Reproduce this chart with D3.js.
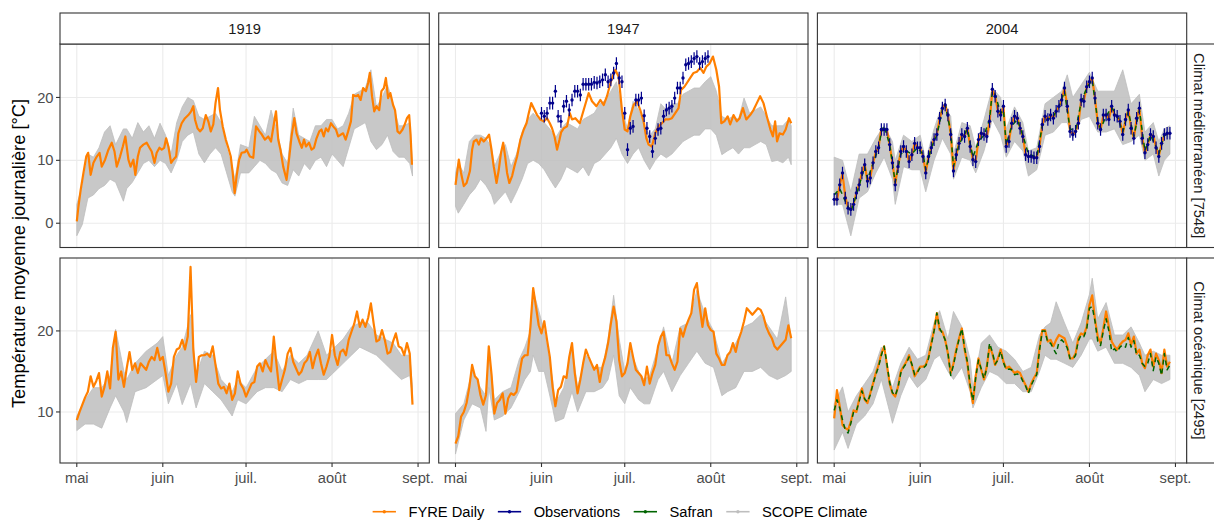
<!DOCTYPE html>
<html><head><meta charset="utf-8">
<script src="https://cdn.jsdelivr.net/npm/d3@7"></script>
<style>body{margin:0;background:#fff}svg{display:block}</style>
</head><body><svg id="c" width="1214" height="520"></svg>
<script>
// ---------- categories / labels ----------
const years = ["1919", "1947", "2004"];
const climates = ["Climat méditerranéen [7548]", "Climat océanique [2495]"];
const monthTickDays = [0, 31, 61, 92, 123];
const monthTickLabels = ["mai", "juin", "juil.", "août", "sept."];
const yTicksByRow = [[0, 10, 20], [10, 20]];
const yTitle = "Température moyenne journalière [°C]";
const seriesNames = ["FYRE Daily", "Observations", "Safran", "SCOPE Climate"];
const seriesColors = ["#ff7f00", "#00008b", "#006400", "#bebebe"];
const dayRange = [0, 121];
const obsUncertainty = 1.0;

// ---------- FYRE Daily ([day, °C] or daily values from 1 May) ----------
const fyre1919Med = [[0,0.3],[0.6,2.7],[1.4,5.3],[2.4,8],[3.4,10.6],[4.1,11.2],[5,7.7],[6,9.6],[7.2,10.6],[8.2,11.2],[9,9],[10.2,10.1],[11.4,11.7],[12.6,12.8],[13.6,11.4],[14.4,9],[15.6,10.6],[16.6,12.2],[17.5,13.8],[18.6,10.1],[19.4,9],[20.4,10.1],[21.1,7.7],[22,10.6],[22.8,12],[24,12.5],[25.2,12.8],[26.2,12],[27,11.4],[28,9.6],[28.8,11.2],[29.8,12],[30.6,11.7],[31.5,12],[32.2,13.5],[33,12.2],[34,9.6],[34.8,10.1],[35.8,10.6],[36.6,14.3],[37.8,15.9],[39,16.7],[40.2,17.2],[41.2,17.8],[42,18.6],[42.6,16.5],[43.5,15.1],[44.4,14.6],[45.4,15.1],[46.5,17.2],[47.4,16.2],[48.3,14.6],[49.2,15.7],[50,19.1],[50.9,21.5],[51.6,18],[52.6,15.4],[53.7,13.3],[54.6,12],[55.5,10.6],[56.2,8],[56.9,4.8],[57.6,7.5],[58.5,10.1],[59.4,11.2],[60.6,11.3],[61.2,11.7],[62.4,10.6],[63.6,10.4],[64.6,15.4],[65.8,14.6],[66.7,14.1],[67.8,13.3],[69,13.8],[70,13],[71,15.7],[71.8,17.8],[72.6,13.3],[73.4,11.7],[74.4,9],[75.6,6.9],[76.6,10.6],[77.4,13.8],[78.4,16.7],[79.2,14.3],[80.2,13],[81.1,12],[81.9,13.3],[82.6,12.2],[83.7,12.8],[84.6,11.7],[85.5,12],[86.4,13.5],[87.4,14.6],[88.2,14.9],[89,13.8],[89.8,15.1],[90.6,14.6],[91.6,15.9],[92.4,15.4],[93.4,14.9],[94.2,13.8],[95.2,14.1],[96,14.3],[96.9,13.3],[97.8,14.6],[98.8,16.2],[99.6,20.4],[100.6,20.2],[101.4,20.4],[102.3,19.6],[103.2,21.5],[104.2,21],[105,22.3],[105.6,23.9],[106.4,20.2],[107.2,17.8],[108,18.6],[109,18],[109.8,21],[110.7,21.5],[111.4,23.1],[112.2,19.9],[113,20.7],[114,18.8],[114.7,18],[115.6,14.6],[116.4,14.3],[117.4,14.9],[118.2,15.7],[119,16.7],[119.8,17.2],[120.3,14.1],[120.8,9.3]];
const fyre1947Med = [[0,6.1],[0.6,8],[1.2,10.1],[2,8],[3,5.9],[4,6.4],[5.2,8.3],[6,11.7],[6.6,13],[7.6,13.3],[8.4,12.5],[9.2,13.5],[10.2,13],[11.2,13.5],[12.1,14.1],[12.8,12.2],[13.8,9],[14.8,6.4],[15.6,8.5],[16.4,11.2],[17.2,12.8],[17.9,10.6],[18.6,8],[19.4,6.4],[20.4,7.5],[21.2,9],[22.2,10.6],[23.4,13.3],[24.6,14.9],[25.6,15.9],[26.4,17.5],[27.3,19.1],[28.2,18.3],[29.4,17.2],[30.6,16.5],[31.8,16.2],[33,16.7],[34,15.9],[34.8,15.1],[35.7,13.8],[36.6,11.7],[37.5,13.3],[38.1,14.5],[39,15.1],[40.2,15.4],[41.2,17.5],[42,16.5],[43.2,16.7],[44.8,15.9],[46.2,18],[48,20.7],[49.2,19.4],[50.8,18.6],[52.2,19.6],[53.4,18.8],[54.6,20.2],[56,22.5],[57.6,24.4],[58.8,23.3],[60,18],[61,14.9],[62,14.6],[63,17],[64.2,18.8],[65.4,19.4],[66.6,18],[67.8,16.2],[68.8,13.5],[69.6,12.5],[70.8,12.2],[72,14.3],[73.2,15.4],[74.4,15.9],[75.6,16.5],[76.8,16.5],[78,16.7],[79.2,17.5],[80.4,18.3],[81.3,21.2],[82.5,21.7],[83.4,22.3],[84.6,23.1],[85.8,23.9],[87,24.1],[88.2,24.7],[89.4,23.9],[90.4,24.9],[91.6,25.4],[92.8,26.5],[94,24.4],[95,21.7],[95.8,15.9],[96.9,16.2],[98.1,17],[99,15.7],[100.2,17.2],[101.4,16.2],[102.4,16.7],[103.6,18.3],[104.8,16.5],[106.2,17.2],[107.4,18],[108.6,19.1],[109.8,20.2],[111,19.1],[112.2,17],[113.5,14.9],[114.4,13.8],[115.2,16.2],[115.9,13],[116.8,14.3],[118,14.1],[119,14.9],[120.2,16.7],[121,15.9]];
const fyre2004Med = [3.9,3.7,6,7.9,4.2,2.5,2.1,3.1,4.8,6.2,8,9.4,6.6,7.3,9.6,11.3,12.1,15,14.8,14.9,12.4,9.7,6.2,9.1,11.3,12.2,11.5,9.8,10.8,12.7,12.1,11.9,10.7,8.1,10.5,12,13.4,14.1,16.6,18.2,18.9,17.1,14.2,8.4,10.8,12.8,14,13.9,15.1,12.3,10.1,9.9,13.2,14.3,14.2,13.8,16.1,21.1,20.3,17.8,17.1,18.5,12.3,13.1,15.8,17,16.8,15.2,13.8,10.9,10.6,10.7,10.4,10.5,12.3,15.6,17.1,16.4,17.2,16.8,17.8,18.5,19.7,21.4,18.7,14.7,14.1,14.6,15.8,19.5,19.5,21.6,22.6,23,19.9,15.9,14.9,17.1,17.3,16.5,18.5,17.3,17,16.2,14.2,16.4,18,15.2,13.5,16.6,18.3,13.6,11.2,12.5,14,13.9,12.1,10.7,12.6,14,14.3,14.2];
const fyre1919Oce = [9,10,10.9,11.8,12.5,14.4,13.1,13.8,14.8,11.9,13.1,15,12.9,17.9,19.9,14,15,13.1,15.4,17.4,15.2,16,14.8,16,15.6,15.2,16.2,16.8,16.4,17.9,16.4,16.8,14.8,12.5,13.5,16.8,17.7,17.9,18.9,17.7,19.3,27.9,17.7,13.7,16.8,17,17,17.2,16.8,18.1,15.8,13.5,12.9,13.1,12.3,13.5,11.5,12.3,15,13.5,12.9,11.9,12.7,13.5,13.7,15.6,16,15,16.4,15.6,15,19.3,15.8,12.7,14,15.2,17.2,17.9,16.2,15.4,14.6,15,16,16.4,17.4,15.4,16.8,17.7,16,14.6,15.6,16.8,19.5,17,15.8,17.4,17.7,17,18.9,19.9,20.9,22.4,20.5,21.4,20.5,21.6,23.4,20.9,18.7,18.9,20.1,18.9,17.2,17.4,18.7,19.7,18.1,17.9,17,18.5,17.2,10.9];
const fyre1947Oce = [6.1,7,9.4,10,11.1,13.1,15.8,14.4,14,12.1,10.9,12.1,18.1,14.6,9.8,11.1,11.5,12.3,9.8,11.7,12.3,12.1,12.5,14.6,16.6,17,17,20.5,25.3,23,20.7,19.7,21.2,18.9,16.8,13.1,10.7,12.7,13.1,14.4,14.2,16.8,18.5,14.8,12.3,14,16,17.7,16.8,16,15.2,15.8,13.7,15.6,16.8,18.5,20.9,23,21.2,16.4,14.4,14.8,16,18.5,16.8,15.2,14.8,14.4,13.3,15.6,13.5,14.8,15.8,18.1,19.3,19.9,17,17,16,15.2,16.2,20.3,19.3,20.5,21.4,22.2,25.1,25.9,23,20.5,22.8,20.7,20.1,19.9,17.2,16.6,15.8,15.8,17,17.4,18.5,17.4,18.9,19.9,21.2,22.8,22.4,22,22.4,22.8,22.6,21.8,20.5,19.7,19.1,18.1,17.7,18.1,18.5,18.9,20.7,19.1];
const fyre2004Oce = [9.2,12.7,10.7,8.4,8,7.8,8.8,10.2,10,11.5,12.9,11.5,11.1,12.3,13.5,14.8,15.8,17.2,18.1,15.8,13.5,12.3,11.9,13.1,15,15.6,16.2,17,15.8,14.4,15,15.6,15.6,15.8,16.8,18.5,20.1,22.2,20.1,19.9,18.9,17.2,14.8,16,17.7,19.1,20.3,17.7,16,13.1,11.1,14.4,16.6,15.2,14,15.6,18.1,17.2,15.8,16.6,17.7,16.2,15.4,15.6,15.2,14.8,15,14.8,14,13.3,12.5,13.5,14.2,14.8,17.9,20.1,20.1,18.7,18.9,18.1,18.9,19.5,19.3,19.1,18.1,16.6,16.6,17.2,19.1,19.7,19.5,20.5,23.2,24.4,21.4,19.3,18.5,20.3,22.4,20.5,18.7,18.1,17.7,18.3,18.7,18.9,19.7,18.3,19.3,17.2,17.7,16,15.4,17,17.7,15.6,17.2,16.4,14.8,17.7,15.6,16.2];

// ---------- Observations (daily, from a start day) ----------
const obs1947MedStartDay = 31;
const obs1947Med = [17.5,17,17.5,19.1,19.1,21,17,16.2,18.6,19.4,18,19.6,21,21,20.4,22.1,22.1,22.1,22.1,22.4,22.3,22.5,22.8,23.6,22.5,22.8,23.9,25.4,23.1,22.5,17.5,11.7,15.1,15.4,19.6,19.6,19.9,17.1,15.1,13.8,11.4,13.5,14.9,15.1,17,18,18.3,18.6,19.9,21.5,21.5,23.1,25.2,25.4,25.7,26.2,26.5,25.4,25.7,26.2,26.5];
const obs2004MedStartDay = 0;
const obs2004Med = [3.8,3.8,6.1,8,4,2.4,2.2,3,4.8,6.1,8,9.3,6.7,7.2,9.6,11.4,12,14.9,14.9,14.9,12.5,9.6,6.1,9,11.4,12.2,11.4,9.8,10.9,12.7,12,12,10.6,8,10.6,12,13.3,14.1,16.7,18.3,18.8,17.2,14.1,8.3,10.9,12.7,14.1,13.8,15.1,12.2,10.1,9.8,13.3,14.3,14.1,13.8,16.2,21.3,20.2,17.8,17.2,18.6,12.2,13,15.9,17,16.7,15.1,13.8,10.9,10.6,10.6,10.4,10.4,12.2,15.7,17,16.5,17.2,16.7,17.8,18.6,19.6,21.5,18.6,14.6,14.1,14.6,15.9,19.6,19.4,21.7,22.5,23.1,19.9,15.9,14.9,17.2,17.2,16.5,18.6,17.2,17,16.2,14.1,16.5,18,15.1,13.5,16.7,18.3,13.5,11.2,12.5,14.1,13.8,12,10.6,12.7,14.1,14.3,14.3];

// ---------- Safran ----------
const safran2004Med = [[0,4.5],[2,5.5],[4,3.5],[6,1.8],[8,4.5],[10,7.5],[11,9],[12,7],[14,9.5],[16,12],[17,14.5],[18,15.5],[20,12.5],[22,6.5],[24,11],[26,11.5],[28,11],[30,12],[32,11],[33,8.5],[35,12],[37,14],[39,18],[40,19],[42,14.5],[43,9],[45,12.5],[48,15],[50,10.5],[52,13],[54,14],[56,16.5],[57,21],[58,20.5],[60,17.5],[61,18],[62,12.5],[64,15.5],[66,16.5],[68,14],[70,11],[73,10.5],[75,15.5],[77,16.5],[79,17],[81,18.5],[83,21],[85,15],[87,14.8],[89,19.2],[91,21.5],[93,22.8],[95,16.2],[96,15],[98,17],[100,18.4],[102,17],[104,14.5],[106,17.8],[108,13.8],[110,18],[112,11.5],[114,14],[116,12.2],[117,11],[119,14],[121,14.2]];
const safran2004Oce = [10.2,11.5,10.5,9,7.8,7.4,8.6,10,10.1,11.3,12.6,11.6,11.2,12.1,13.5,14.6,15.6,17,18.1,16,13.6,12.4,12,13,14.8,15.5,16,16.8,15.9,14.6,14.9,15.5,15.4,15.7,16.6,18.3,20,22.2,20.3,19.7,18.9,17.3,14.5,15.8,17.5,19,20.3,17.9,16.2,13.3,11.4,14.2,16.4,15.3,14.1,15.4,18.5,17.4,15.9,16.4,17.5,16.1,15.2,15.3,15.2,14.6,14.7,14.5,13.8,13.2,12.3,13.3,14,14.6,17.6,20,20,18.5,18.5,17.8,17.2,18.6,18.9,18.5,17.9,16.6,16.5,17,18.8,19.5,19.3,20.2,22.8,23,21.2,18.7,18.2,20,21.5,20,17.5,17.8,17.4,18,18.3,18,19.2,18,18.8,17,17,16,15.6,16,17.2,15.1,16.8,16,14.5,17.2,15.2,15.8];

// ---------- SCOPE Climate ensemble envelope [day, min, max] ----------
const scope1919Med = [[0,-2,3],[2,-0.2,6],[4,4,11],[6,4.5,10.5],[8,5.5,12],[10,6,14.5],[12,7,15.5],[14,6.5,12.5],[16.8,3.5,15],[18,5.5,15],[20,6.5,13.5],[22,8,16],[24,9.5,14.5],[26,10,15.5],[28,9,13.5],[30,10,15.9],[32,9.5,14],[34,8,11],[36,10,16],[38,13,18.5],[40,14,20],[42,14.5,19.5],[44,11,17],[46,9.6,16.5],[48,11,17],[50,12,17.5],[52,11,16],[54,8,12],[56,5,9],[57,4.3,7],[59,8,12.5],[62,8,12],[64,9,17],[66,10,15.5],[68,9.5,14],[70,8.5,18],[72,8,15],[74,6.4,11],[76,6,9.5],[78,8.5,18.3],[80,7.5,14],[82,9.5,13.5],[84,8.5,13],[86,10,15.5],[88,10.5,15.5],[90,9,16.5],[92,11,16.5],[94,10,15],[96,9,15.5],[98,12,17.5],[100,15,20.5],[102,15.5,21],[104,16,21.5],[106,13,24.4],[108,11.7,18.5],[110,12.5,20],[112,14,22],[114,11.4,19],[116,10.5,15.5],[118,10.5,15.5],[120,9.5,16],[121,7.5,9.5]];
const scope1947Med = [[0,2.7,8],[1,1.6,9.5],[3,3,8],[5,4.5,13],[7,5.5,14],[9,7,14],[11,6,13.5],[13,4.5,12],[14,3,9],[16,4,11],[18,5,12.5],[20,3.2,9],[22,5,11],[24,7,14.5],[26,9.5,16.5],[28,10,17.5],[30,9.5,16.5],[32,8.5,16],[34,7,15],[36,5.6,13.5],[38,7,15],[40,9,16],[42,8.5,15.5],[44,8,15],[46,9,16.5],[48,7.5,17],[50,9.5,17.5],[52,10,19],[54,11,19.5],[56,12,21],[58,13.5,22.5],[60,11,18],[62,9.5,15],[64,11,19.4],[66,12,18],[68,10,15.5],[70,8.5,14],[72,10,15],[74,11,19],[76,10.4,18],[78,11,19],[80,12,19],[82,13,20.5],[84,13.5,21],[86,14,21.5],[88,14,21.5],[90,15,22.5],[92,15,23.3],[94,14,21],[96,10.9,17],[98,11.5,16.5],[100,12,17],[102,11,16.5],[104,12,19.9],[106,12,17.5],[108,12.5,18],[110,13,18.5],[112,12.5,17],[114,9.8,15.5],[116,10,15.5],[118,9.6,15.5],[120,10.5,16.5],[121,9.3,15.5]];
const scope2004Med = [[0,3,10.5],[3,3,10],[6,-2,5],[9,4,11],[12,5,11],[15,8,13.5],[18,10.5,15.5],[21,7,13],[22,3,10],[25,9,14],[28,8.5,13],[31,8.5,14],[33,5,10],[36,10,15],[39,13.5,19],[42,11,17],[43,7,11],[46,10.5,16],[49,10,15.5],[51,8,12],[54,11.5,16.5],[57,16.5,21.5],[60,14,20],[62,10.5,15],[65,13,18.5],[68,11.5,16],[70,7.5,11.5],[73,8.5,12],[76,14,19],[79,14.5,20],[82,16,21],[84,16,23.6],[86,13.5,20],[89,16.5,22],[92,17,24],[95,14.5,21],[98,14.5,21],[101,15,21],[104,12.5,24.4],[107,13,19],[110,14,20.5],[112,10,14.5],[115,11,16],[117,7.5,13],[119,10,15],[121,11,15.5]];
const scope1919Oce = [[0,7.7,9.5],[3,8.5,11.5],[6,8.5,13],[9,8,13],[12,10.5,14.5],[14,12,20.2],[17,10,15],[18,8.7,14],[21,12.5,16],[25,13,17.5],[29,14,18.5],[31,14.5,19.3],[33,11,14.5],[36,13.5,17],[38,10.9,18],[41,13.5,22],[43,10.5,14.5],[46,13.5,17.5],[49,12.5,17],[52,11.5,14],[56,9.5,12.5],[58,11.5,14],[61,11,13],[65,12.5,15.5],[68,13,16.5],[71,13,17.5],[74,12.5,15],[77,14,17],[80,13.5,16],[83,14,17],[87,14,20],[90,14,17],[93,15,18],[96,16,19],[99,17,20.5],[102,18,21],[105,17.5,21],[108,17,19.5],[111,16,19],[114,15,18.5],[117,14,17],[120,14.5,17],[121,12,13]];
const scope1947Oce = [[0,4.8,9.8],[3,9,11],[6,11,15],[9,10.5,13],[11,7.6,12],[12,13,17.5],[14,9,11.5],[17,9.5,12.5],[20,10.5,13],[23,12.5,16.5],[25,14,18],[27,15,20],[28,17,25],[30,15,22.5],[32,15,20],[35,10.5,14],[36,8.8,11],[39,9.2,13],[42,12.5,18],[44,10,13],[47,12.5,17],[50,12.5,15.5],[53,13,15.5],[55,14,19],[57,17,24.4],[59,12,19],[61,11,15],[63,13,17.5],[66,11.5,15],[68,11,14],[70,11,14.5],[73,14,18],[75,15,20.5],[78,12.5,16],[81,14.5,20.5],[84,16,21],[87,17.5,25],[90,16,22],[93,15.5,20],[96,12,16],[98,12.5,17],[101,13,18.5],[104,15,20.5],[107,15,21],[110,15.5,22],[113,14.5,20.5],[116,14,19],[119,14.5,24.2],[121,15,19]];
const scope2004Oce = [[0,5.3,11],[3,7.5,13.1],[5,5.5,10],[8,8.5,12],[11,9.5,13.5],[14,11,15],[17,14,18],[20,10,14],[21,8.6,13],[24,12,16],[27,14.5,18],[30,13,16.5],[33,14,17],[36,16.5,21],[38,17,22.5],[41,15,19],[43,14,22.4],[46,15.5,20.5],[49,12.5,16.5],[50,10.5,13],[53,13,18.5],[56,15,19.5],[59,14.5,18],[62,13.5,17.5],[65,13.5,16.5],[68,12.5,15],[71,12.5,15.5],[74,15,19.5],[76,17,20.5],[78,16.5,21],[80,16.5,23.6],[83,16,21],[86,15.5,18.5],[89,17,21],[92,19,24.5],[93,19,26.5],[95,17.5,21.5],[98,18,23.5],[101,16,19.5],[104,16,19.5],[107,15.5,20.5],[110,14.5,18.5],[112,12.5,17],[115,14,17.5],[118,13.5,17],[121,14,17]];

// ---------- panel table ----------
const panels = [
  {row:0, col:0, scope:scope1919Med, fyre:fyre1919Med},
  {row:0, col:1, scope:scope1947Med, fyre:fyre1947Med, obs:obs1947Med, obsStart:obs1947MedStartDay},
  {row:0, col:2, scope:scope2004Med, fyre:fyre2004Med, safran:safran2004Med, obs:obs2004Med, obsStart:obs2004MedStartDay},
  {row:1, col:0, scope:scope1919Oce, fyre:fyre1919Oce},
  {row:1, col:1, scope:scope1947Oce, fyre:fyre1947Oce},
  {row:1, col:2, scope:scope2004Oce, fyre:fyre2004Oce, safran:safran2004Oce}
];

// ---------- layout ----------
const FONT = '"Liberation Sans", Arial, Helvetica, sans-serif';
const colLeft = [60, 438.7, 817.4], panelW = 369.3;
const rowTop = [44, 258], rowH = [203.5, 205];
const stripTop = 13, stripH = 31, rightStripW = 30;
const yDomains = [[-3.86, 28.5], [3.7, 29.0]];
const expand = (dayRange[1] - dayRange[0]) * 0.05;

const svg = d3.select("#c");
svg.append("rect").attr("width", 1214).attr("height", 520).attr("fill", "#fff");
const defs = svg.append("defs");

const toPts = a => (typeof a[0] === "number") ? a.map((v, i) => [i, v]) : a;

panels.forEach((p, i) => {
  const L = colLeft[p.col], T = rowTop[p.row], H = rowH[p.row];
  const xs = d3.scaleLinear().domain([dayRange[0] - expand, dayRange[1] + expand]).range([L, L + panelW]);
  const ys = d3.scaleLinear().domain(yDomains[p.row]).range([T + H, T]);
  const g = svg.append("g");
  g.append("rect").attr("x", L).attr("y", T).attr("width", panelW).attr("height", H).attr("fill", "#fff");
  g.selectAll(".gx").data(monthTickDays).join("line")
    .attr("x1", d => xs(d)).attr("x2", d => xs(d)).attr("y1", T).attr("y2", T + H)
    .attr("stroke", "#ebebeb").attr("stroke-width", 1.1);
  g.selectAll(".gy").data(yTicksByRow[p.row]).join("line")
    .attr("x1", L).attr("x2", L + panelW).attr("y1", d => ys(d)).attr("y2", d => ys(d))
    .attr("stroke", "#ebebeb").attr("stroke-width", 1.1);

  defs.append("clipPath").attr("id", "clip" + i).append("rect")
    .attr("x", L).attr("y", T).attr("width", panelW).attr("height", H);
  const dg = g.append("g").attr("clip-path", `url(#clip${i})`);

  // SCOPE Climate envelope
  dg.append("path").datum(p.scope)
    .attr("d", d3.area().x(d => xs(d[0])).y0(d => ys(d[1])).y1(d => ys(d[2])))
    .attr("fill", seriesColors[3]).attr("fill-opacity", 0.85)
    .attr("stroke", seriesColors[3]).attr("stroke-width", 0.8).attr("stroke-linejoin", "round");

  const line = d3.line().x(d => xs(d[0])).y(d => ys(d[1]));
  dg.append("path").datum(toPts(p.fyre)).attr("d", line)
    .attr("fill", "none").attr("stroke", seriesColors[0]).attr("stroke-width", 2.2)
    .attr("stroke-linejoin", "round");
  if (p.safran) {
    dg.append("path").datum(toPts(p.safran)).attr("d", line)
      .attr("fill", "none").attr("stroke", seriesColors[2]).attr("stroke-width", 1.5)
      .attr("stroke-dasharray", "5,4").attr("stroke-linejoin", "round");
  }
  if (p.obs) {
    const od = p.obs.map((v, k) => [p.obsStart + k, v]);
    dg.selectAll(".eb").data(od).join("line")
      .attr("x1", d => xs(d[0])).attr("x2", d => xs(d[0]))
      .attr("y1", d => ys(d[1] - obsUncertainty)).attr("y2", d => ys(d[1] + obsUncertainty))
      .attr("stroke", seriesColors[1]).attr("stroke-width", 1.2);
    dg.selectAll(".pt").data(od).join("circle")
      .attr("cx", d => xs(d[0])).attr("cy", d => ys(d[1])).attr("r", 1.7)
      .attr("fill", seriesColors[1]);
  }
  g.append("rect").attr("x", L).attr("y", T).attr("width", panelW).attr("height", H)
    .attr("fill", "none").attr("stroke", "#333").attr("stroke-width", 1.1);

  if (p.row === 1) {
    const ax = svg.append("g").attr("transform", `translate(0,${T + H})`);
    ax.selectAll("line").data(monthTickDays).join("line")
      .attr("x1", d => xs(d)).attr("x2", d => xs(d)).attr("y1", 0).attr("y2", 4)
      .attr("stroke", "#333").attr("stroke-width", 1.1);
    ax.selectAll("text").data(monthTickDays).join("text")
      .attr("x", d => xs(d)).attr("y", 19.5).attr("text-anchor", "middle")
      .attr("font-family", FONT).attr("font-size", 14.7).attr("fill", "#4d4d4d")
      .text((d, k) => monthTickLabels[k]);
  }
  if (p.col === 0) {
    const ay = svg.append("g");
    ay.selectAll("line").data(yTicksByRow[p.row]).join("line")
      .attr("x1", L - 4).attr("x2", L).attr("y1", d => ys(d)).attr("y2", d => ys(d))
      .attr("stroke", "#333").attr("stroke-width", 1.1);
    ay.selectAll("text").data(yTicksByRow[p.row]).join("text")
      .attr("x", L - 6.5).attr("y", d => ys(d)).attr("dy", "0.35em").attr("text-anchor", "end")
      .attr("font-family", FONT).attr("font-size", 14.7).attr("fill", "#4d4d4d")
      .text(d => d);
  }
});

years.forEach((yr, c) => {
  const L = colLeft[c];
  svg.append("rect").attr("x", L).attr("y", stripTop).attr("width", panelW).attr("height", stripH)
    .attr("fill", "#fff").attr("stroke", "#333").attr("stroke-width", 1.1);
  svg.append("text").attr("x", L + panelW / 2).attr("y", stripTop + stripH / 2).attr("dy", "0.35em")
    .attr("text-anchor", "middle").attr("font-family", FONT).attr("font-size", 14.7).attr("fill", "#1a1a1a")
    .text(yr);
});
const rsX = colLeft[2] + panelW;
climates.forEach((cl, r) => {
  const T = rowTop[r], H = rowH[r];
  svg.append("rect").attr("x", rsX).attr("y", T).attr("width", rightStripW).attr("height", H)
    .attr("fill", "#fff").attr("stroke", "#333").attr("stroke-width", 1.1);
  svg.append("text").attr("transform", `translate(${rsX + 12},${T + H / 2}) rotate(90)`)
    .attr("dy", "0.35em").attr("text-anchor", "middle").attr("font-family", FONT)
    .attr("font-size", 14.7).attr("fill", "#1a1a1a").text(cl);
});

svg.append("text").attr("transform", `translate(19,${(rowTop[0] + rowTop[1] + rowH[1]) / 2}) rotate(-90)`)
  .attr("dy", "0.35em").attr("text-anchor", "middle").attr("font-family", FONT)
  .attr("font-size", 18.3).attr("fill", "#000").text(yTitle);

const lg = svg.append("g");
const keyW = 23.3, keyGap = 12.5, itemGap = 13.5, legY = 511.7;
const widths = seriesNames.map(n => {
  const t = lg.append("text").attr("font-family", FONT).attr("font-size", 14.7).text(n);
  const w = t.node().getComputedTextLength(); t.remove(); return w;
});
const total = widths.reduce((a, w) => a + keyW + keyGap + w, 0) + itemGap * (seriesNames.length - 1);
let cx = 620 - total / 2;
seriesNames.forEach((n, k) => {
  lg.append("line").attr("x1", cx).attr("x2", cx + keyW).attr("y1", legY).attr("y2", legY)
    .attr("stroke", seriesColors[k]).attr("stroke-width", 1.6);
  lg.append("circle").attr("cx", cx + keyW / 2).attr("cy", legY).attr("r", 1.7).attr("fill", seriesColors[k]);
  lg.append("text").attr("x", cx + keyW + keyGap).attr("y", legY).attr("dy", "0.35em")
    .attr("font-family", FONT).attr("font-size", 14.7).attr("fill", "#000").text(n);
  cx += keyW + keyGap + widths[k] + itemGap;
});
</script></body></html>
